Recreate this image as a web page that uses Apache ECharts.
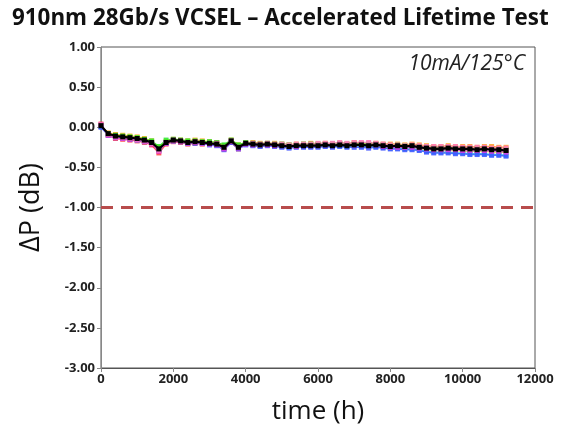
<!DOCTYPE html>
<html>
<head>
<meta charset="utf-8">
<script src="https://cdn.jsdelivr.net/npm/echarts@6/dist/echarts.min.js"></script>
<style>html,body{margin:0;padding:0;background:#fff}#c{width:571px;height:430px}</style>
</head>
<body>
<div id="c"></div>
<script>
const titleText = '910nm 28Gb/s VCSEL \u2013 Accelerated Lifetime Test';
const conditionText = '10mA/125\u00B0C';
const xTicks = [0, 2000, 4000, 6000, 8000, 10000, 12000];
const yTicks = [1.00, 0.50, 0.00, -0.50, -1.00, -1.50, -2.00, -2.50, -3.00];
const failLimit = -1.00;

const timeH = [0,200,400,600,800,1000,1200,1400,1600,1800,
  2000,2200,2400,2600,2800,3000,3200,3400,3600,3800,
  4000,4200,4400,4600,4800,5000,5200,5400,5600,5800,
  6000,6200,6400,6600,6800,7000,7200,7400,7600,7800,
  8000,8200,8400,8600,8800,9000,9200,9400,9600,9800,
  10000,10200,10400,10600,10800,11000,11200];

const devRed = [0.04,-0.10,-0.14,-0.15,-0.16,-0.17,-0.19,-0.22,-0.32,-0.21,
  -0.18,-0.19,-0.21,-0.20,-0.21,-0.21,-0.22,-0.27,-0.19,-0.27,
  -0.21,-0.22,-0.23,-0.22,-0.22,-0.23,-0.24,-0.23,-0.22,-0.23,
  -0.22,-0.21,-0.22,-0.21,-0.22,-0.21,-0.21,-0.22,-0.21,-0.22,
  -0.23,-0.22,-0.23,-0.23,-0.24,-0.25,-0.26,-0.26,-0.25,-0.26,
  -0.26,-0.27,-0.27,-0.26,-0.27,-0.27,-0.28];
const devOrange = [0.01,-0.07,-0.09,-0.10,-0.11,-0.12,-0.14,-0.17,-0.25,-0.18,
  -0.15,-0.16,-0.17,-0.16,-0.17,-0.18,-0.19,-0.23,-0.16,-0.22,
  -0.19,-0.19,-0.20,-0.20,-0.20,-0.21,-0.22,-0.21,-0.21,-0.20,
  -0.21,-0.20,-0.21,-0.20,-0.21,-0.19,-0.20,-0.21,-0.20,-0.21,
  -0.21,-0.21,-0.22,-0.21,-0.22,-0.23,-0.24,-0.24,-0.23,-0.24,
  -0.24,-0.24,-0.25,-0.24,-0.24,-0.25,-0.25];
const devYellow = [0.02,-0.08,-0.11,-0.12,-0.12,-0.13,-0.15,-0.18,-0.26,-0.18,
  -0.16,-0.17,-0.18,-0.18,-0.19,-0.19,-0.20,-0.24,-0.17,-0.24,
  -0.20,-0.21,-0.22,-0.21,-0.22,-0.22,-0.23,-0.23,-0.22,-0.22,
  -0.22,-0.22,-0.22,-0.21,-0.22,-0.21,-0.21,-0.22,-0.21,-0.23,
  -0.25,-0.25,-0.26,-0.25,-0.27,-0.28,-0.29,-0.29,-0.29,-0.29,
  -0.30,-0.30,-0.30,-0.30,-0.31,-0.31,-0.31];
const devGreen = [0.02,-0.08,-0.10,-0.11,-0.12,-0.13,-0.15,-0.17,-0.24,-0.16,
  -0.15,-0.16,-0.17,-0.17,-0.18,-0.18,-0.19,-0.22,-0.16,-0.22,
  -0.19,-0.20,-0.21,-0.20,-0.21,-0.21,-0.22,-0.22,-0.21,-0.21,
  -0.21,-0.21,-0.21,-0.20,-0.21,-0.21,-0.21,-0.21,-0.21,-0.22,
  -0.23,-0.22,-0.23,-0.23,-0.24,-0.25,-0.26,-0.26,-0.26,-0.26,
  -0.27,-0.27,-0.27,-0.27,-0.28,-0.28,-0.28];
const devCyan = [0.01,-0.09,-0.12,-0.13,-0.14,-0.16,-0.18,-0.20,-0.28,-0.19,
  -0.17,-0.18,-0.20,-0.19,-0.20,-0.21,-0.22,-0.26,-0.18,-0.26,
  -0.21,-0.22,-0.23,-0.22,-0.23,-0.24,-0.25,-0.24,-0.24,-0.24,
  -0.24,-0.23,-0.24,-0.23,-0.24,-0.23,-0.24,-0.24,-0.24,-0.25,
  -0.26,-0.26,-0.27,-0.27,-0.28,-0.30,-0.31,-0.31,-0.31,-0.32,
  -0.32,-0.33,-0.33,-0.33,-0.34,-0.34,-0.35];
const devBlue = [0.00,-0.10,-0.13,-0.14,-0.15,-0.15,-0.17,-0.20,-0.29,-0.20,
  -0.17,-0.18,-0.20,-0.20,-0.20,-0.22,-0.23,-0.28,-0.19,-0.27,
  -0.22,-0.23,-0.24,-0.23,-0.24,-0.25,-0.26,-0.25,-0.25,-0.25,
  -0.25,-0.24,-0.25,-0.24,-0.25,-0.25,-0.25,-0.26,-0.25,-0.26,
  -0.27,-0.27,-0.28,-0.28,-0.29,-0.31,-0.32,-0.32,-0.32,-0.33,
  -0.33,-0.34,-0.34,-0.34,-0.35,-0.35,-0.36];
const devMagenta = [0.03,-0.10,-0.13,-0.14,-0.15,-0.16,-0.18,-0.21,-0.30,-0.20,
  -0.17,-0.18,-0.20,-0.19,-0.20,-0.21,-0.22,-0.27,-0.18,-0.26,
  -0.21,-0.22,-0.22,-0.22,-0.23,-0.23,-0.24,-0.24,-0.23,-0.23,
  -0.23,-0.22,-0.23,-0.21,-0.22,-0.22,-0.22,-0.23,-0.22,-0.24,
  -0.25,-0.25,-0.25,-0.25,-0.26,-0.27,-0.28,-0.28,-0.28,-0.28,
  -0.29,-0.29,-0.29,-0.29,-0.30,-0.30,-0.31];
const devPink = [0.03,-0.09,-0.12,-0.13,-0.14,-0.15,-0.17,-0.20,-0.29,-0.19,
  -0.16,-0.17,-0.19,-0.18,-0.19,-0.20,-0.20,-0.25,-0.17,-0.25,
  -0.20,-0.20,-0.21,-0.20,-0.21,-0.21,-0.22,-0.21,-0.21,-0.21,
  -0.20,-0.20,-0.20,-0.19,-0.20,-0.19,-0.19,-0.19,-0.20,-0.21,
  -0.22,-0.22,-0.23,-0.22,-0.23,-0.24,-0.24,-0.24,-0.24,-0.24,
  -0.25,-0.25,-0.25,-0.25,-0.26,-0.26,-0.26];
const devAverage = [0.02,-0.08,-0.11,-0.12,-0.13,-0.14,-0.16,-0.19,-0.27,-0.19,
  -0.16,-0.17,-0.19,-0.18,-0.19,-0.20,-0.21,-0.25,-0.17,-0.25,
  -0.20,-0.21,-0.22,-0.21,-0.22,-0.23,-0.24,-0.23,-0.23,-0.23,
  -0.23,-0.22,-0.23,-0.22,-0.23,-0.22,-0.22,-0.23,-0.22,-0.23,
  -0.24,-0.23,-0.24,-0.23,-0.25,-0.26,-0.27,-0.27,-0.26,-0.27,
  -0.27,-0.27,-0.28,-0.27,-0.28,-0.28,-0.29];

const colored = [
  ['Red', devRed, '#ff3c3c'],
  ['Orange', devOrange, '#ffa01e'],
  ['Yellow', devYellow, '#e6f032'],
  ['Green', devGreen, '#28e628'],
  ['Cyan', devCyan, '#28c8f0'],
  ['Blue', devBlue, '#3c50ff'],
  ['Magenta', devMagenta, '#e03ce0'],
  ['Pink', devPink, '#ff78c0']
];

const zip = arr => timeH.map((t, i) => [t, arr[i]]);

const series = colored.map(([name, arr, col]) => ({
  name, type: 'line', data: zip(arr), symbol: 'rect', symbolSize: 5,
  itemStyle: { color: col, opacity: 0.85 },
  lineStyle: { color: col, width: 1.5, opacity: 0.85 },
  silent: true, animation: false
}));
series.push({
  name: 'Average', type: 'line', data: zip(devAverage), symbol: 'rect', symbolSize: 5,
  itemStyle: { color: '#000' }, lineStyle: { color: '#000', width: 2.2 },
  silent: true, animation: false, z: 5,
  markLine: {
    silent: true, symbol: 'none', label: { show: false },
    lineStyle: { color: '#b84c4c', type: [12, 8], width: 3 },
    data: [{ yAxis: failLimit }]
  }
});

const chart = echarts.init(document.getElementById('c'));
chart.setOption({
  animation: false,
  backgroundColor: '#fff',
  title: [
    { text: titleText, left: 7, top: 3,
      textStyle: { fontFamily: 'Open Sans', fontWeight: 'bold', fontSize: 22.4, color: '#111' } },
    { text: conditionText, right: 41, top: 49,
      textStyle: { fontFamily: 'Open Sans', fontStyle: 'italic', fontWeight: 'normal', fontSize: 21, color: '#222' } }
  ],
  grid: { left: 101, top: 47, right: 36, bottom: 62, show: true, borderColor: '#555', borderWidth: 1 },
  xAxis: {
    type: 'value', min: xTicks[0], max: xTicks[xTicks.length - 1], interval: 2000,
    name: 'time (h)', nameLocation: 'middle', nameGap: 31,
    nameTextStyle: { fontFamily: 'Open Sans', fontSize: 26, color: '#111' },
    axisLine: { onZero: false, lineStyle: { color: '#555' } },
    axisTick: { show: true, length: 4, lineStyle: { color: '#888' } },
    splitLine: { show: false },
    axisLabel: { fontFamily: 'Open Sans', fontWeight: 'bold', fontSize: 13, color: '#222', margin: 5,
      formatter: v => String(v) }
  },
  yAxis: {
    type: 'value', min: yTicks[yTicks.length - 1], max: yTicks[0], interval: 0.5,
    name: '\u0394P (dB)', nameLocation: 'middle', nameGap: 56, nameRotate: 90,
    nameTextStyle: { fontFamily: 'Open Sans', fontSize: 27, color: '#111' },
    axisLine: { show: true, onZero: false, lineStyle: { color: '#888' } },
    axisTick: { show: true, length: 4, lineStyle: { color: '#888' } },
    splitLine: { show: false },
    axisLabel: { fontFamily: 'Open Sans', fontWeight: 'bold', fontSize: 13, color: '#222', margin: 6,
      formatter: v => v.toFixed(2) }
  },
  series
});
</script>
</body>
</html>
